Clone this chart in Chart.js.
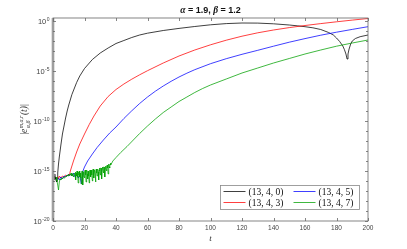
<!DOCTYPE html>
<html lang="en">
<head>
  <meta charset="UTF-8">
  <title>error plot</title>
  <script src="https://cdn.jsdelivr.net/npm/chart.js"></script>
  <style>
    html, body { margin: 0; padding: 0; background: #fff; }
    #wrap { width: 407px; height: 249px; }
  </style>
</head>
<body>
  <div id="wrap"><canvas id="myChart"></canvas></div>

  <script>
    // exponents (log10 of the error)
    const tBlack = [0.5, 0.75, 1, 1.25, 1.5, 1.75, 2, 2.25, 2.5, 2.75, 3, 3.5, 4, 5, 6, 7, 8, 9, 10, 12, 15, 17, 20, 25, 30, 35, 40, 45, 50, 55, 60, 70, 80, 90, 100, 110, 120, 130, 140, 150, 155, 160, 165, 170, 175, 178, 180, 182, 184, 185, 186, 186.7, 187.3, 188, 189, 190, 192, 195, 200];
    const vBlack = [-15.7, -15.5, -15.9, -15.3, -15.8, -15.6, -16.0, -15.9, -16.1, -15.7, -15.2, -14.3, -13.6, -12.4, -11.3, -10.5, -9.7, -9.0, -8.4, -7.35, -6.15, -5.5, -4.75, -3.85, -3.2, -2.7, -2.25, -1.95, -1.65, -1.4, -1.22, -0.95, -0.74, -0.55, -0.38, -0.26, -0.2, -0.21, -0.28, -0.4, -0.48, -0.57, -0.68, -0.85, -1.15, -1.4, -1.7, -2.05, -2.5, -2.85, -3.3, -3.8, -3.3, -2.8, -2.3, -2.0, -1.75, -1.57, -1.4];

    const tRed = [3, 3.5, 4, 5, 6, 7, 8, 9, 10, 10.5, 11, 12, 13, 15, 17, 20, 23, 26, 30, 35, 40, 45, 50, 55, 60, 70, 80, 90, 100, 110, 120, 130, 140, 150, 160, 170, 180, 190, 200];
    const vRed = [-15.6, -15.8, -15.5, -15.7, -15.5, -15.6, -15.4, -15.5, -15.3, -15.4, -15.0, -14.5, -14.0, -13.1, -12.3, -11.3, -10.35, -9.5, -8.5, -7.55, -6.85, -6.3, -5.82, -5.38, -4.97, -4.2, -3.5, -2.9, -2.38, -1.92, -1.52, -1.18, -0.9, -0.66, -0.45, -0.26, -0.08, 0.09, 0.25];

    const tBlue = [3, 4, 5, 6, 7, 8, 9, 10, 11, 12, 13, 14, 15, 16, 17, 18, 18.5, 19, 20, 22, 25, 28, 32, 36, 40, 45, 50, 55, 60, 65, 70, 75, 80, 85, 90, 100, 110, 120, 130, 140, 150, 160, 170, 180, 190, 200];
    const vBlue = [-15.7, -15.9, -15.6, -15.8, -15.5, -15.6, -15.4, -15.5, -15.3, -15.5, -15.2, -15.6, -15.3, -15.7, -15.4, -16.3, -15.6, -15.0, -14.6, -14.0, -13.3, -12.65, -11.9, -11.2, -10.6, -9.75, -8.98, -8.25, -7.6, -7.02, -6.5, -6.03, -5.6, -5.22, -4.87, -4.27, -3.77, -3.33, -2.93, -2.52, -2.12, -1.76, -1.42, -1.12, -0.84, -0.57];

    const tGreen = [2, 2.5, 3, 3.5, 4, 4.5, 5, 5.5, 6, 6.5, 7, 7.5, 8, 8.5, 9, 9.5, 10, 10.5, 11, 11.5, 12, 12.5, 13, 13.5,
      14, 14.25, 14.5, 14.75, 15, 15.25, 15.5, 15.75, 16, 16.25, 16.5, 16.75, 17, 17.25, 17.5, 17.75, 18, 18.25, 18.5, 18.75,
      19, 19.25, 19.5, 19.75, 20, 20.25, 20.5, 20.75, 21, 21.25, 21.5, 21.75, 22, 22.25, 22.5, 22.75, 23, 23.25, 23.5, 23.75,
      24, 24.25, 24.5, 24.75, 25, 25.25, 25.5, 25.75, 26, 26.25, 26.5, 26.75, 27, 27.25, 27.5, 27.75, 28, 28.25, 28.5, 28.75,
      29, 29.25, 29.5, 29.75, 30, 30.25, 30.5, 30.75, 31, 31.25, 31.5, 31.75, 32, 32.25, 32.5, 32.75, 33, 33.25, 33.5, 33.75,
      34, 34.25, 34.5, 34.75, 35, 35.25, 35.5, 35.75, 36, 36.25, 36.5, 36.75, 37,
      38, 40, 43, 47, 51, 55, 60, 65, 70, 75, 80, 85, 90, 95, 100, 110, 120, 130, 140, 150, 160, 170, 180, 190, 200];
    const vGreen = [-15.6, -16.0, -16.4, -16.9, -16.1, -15.8, -15.9, -15.7, -15.8, -15.6, -15.7, -15.6, -15.5, -15.6, -15.4, -15.5, -15.3, -15.5, -15.4, -15.2, -15.5, -15.3, -15.6, -15.2,
      -15.4, -15.1, -15.9, -15.2, -15.5, -15.0, -15.6, -15.2, -16.2, -15.1, -15.4, -15.0, -15.6, -15.2, -15.3, -15.7, -16.3, -15.1, -15.0, -15.6,
      -16.4, -15.3, -15.1, -15.5, -15.7, -15.0, -14.9, -15.4, -16.1, -15.2, -14.9, -15.3, -15.8, -15.0, -15.1, -15.5, -16.2, -15.1, -14.9, -15.3,
      -15.6, -14.9, -15.0, -15.4, -16.0, -15.0, -14.8, -15.2, -15.7, -14.9, -14.9, -15.3, -16.1, -15.0, -14.8, -15.2, -15.5, -14.8, -14.8, -15.1,
      -15.9, -14.9, -14.7, -15.0, -15.4, -14.7, -14.7, -15.1, -15.8, -14.8, -14.6, -14.9, -15.2, -14.6, -14.6, -14.9, -15.6, -14.7, -14.5, -14.8,
      -15.0, -14.5, -14.4, -14.7, -15.3, -14.5, -14.3, -14.6, -14.7, -14.3, -14.2, -14.4, -14.3,
      -14.0, -13.65, -13.15, -12.55, -11.9, -11.25, -10.5, -9.8, -9.15, -8.6, -8.05, -7.6, -7.15, -6.75, -6.4, -5.8, -5.2, -4.7, -4.2, -3.75, -3.3, -2.9, -2.52, -2.2, -1.9];

    const seriesNames = ['(13, 4, 0)', '(13, 4, 3)', '(13, 4, 5)', '(13, 4, 7)'];
    const seriesColors = ['#000000', '#ff0000', '#0000ff', '#00a000'];

    const xTicks = [0, 20, 40, 60, 80, 100, 120, 140, 160, 180, 200];
    const yMajor = [0, -5, -10, -15, -20];
    const yMinor = [-1, -2, -3, -4, -6, -7, -8, -9, -11, -12, -13, -14, -16, -17, -18, -19];

    const toPoints = (ts, vs) => ts.map((t, i) => ({ x: t, y: Math.pow(10, vs[i]) }));

    const allT = [tBlack, tRed, tBlue, tGreen];
    const allV = [vBlack, vRed, vBlue, vGreen];

    const axisColor = '#666';

    // frame, ticks, tick labels, title, labels and legend
    const decor = {
      id: 'decor',
      beforeDraw(chart) {
        const c = chart.ctx;
        c.save();
        c.fillStyle = '#fff';
        c.fillRect(0, 0, chart.width, chart.height);
        c.restore();
      },
      afterDraw(chart) {
        const c = chart.ctx;
        const a = chart.chartArea;
        const xs = chart.scales.x, ys = chart.scales.y;
        c.save();

        // left axis band
        c.fillStyle = '#c4c4c4';
        c.fillRect(a.left - 1.5, a.top, 3, a.bottom - a.top);

        c.strokeStyle = axisColor;
        c.lineWidth = 0.8;
        c.strokeRect(a.left, a.top, a.right - a.left, a.bottom - a.top);

        c.beginPath();
        xTicks.forEach(v => {
          const px = Math.round(xs.getPixelForValue(v)) + 0.5;
          c.moveTo(px, a.bottom); c.lineTo(px, a.bottom - 3);
          c.moveTo(px, a.top); c.lineTo(px, a.top + 3);
        });
        yMajor.forEach(e => {
          const py = Math.round(ys.getPixelForValue(Math.pow(10, e))) + 0.5;
          c.moveTo(a.left, py); c.lineTo(a.left + 3, py);
          c.moveTo(a.right, py); c.lineTo(a.right - 3, py);
        });
        yMinor.forEach(e => {
          const py = Math.round(ys.getPixelForValue(Math.pow(10, e))) + 0.5;
          c.moveTo(a.left, py); c.lineTo(a.left + 2, py);
          c.moveTo(a.right, py); c.lineTo(a.right - 2, py);
        });
        c.stroke();

        // y tick labels 10^e
        c.fillStyle = '#444';
        c.textBaseline = 'alphabetic';
        yMajor.forEach(e => {
          const py = ys.getPixelForValue(Math.pow(10, e));
          const exp = String(e);
          c.font = '5px "Liberation Sans"';
          const we = c.measureText(exp).width;
          c.textAlign = 'left';
          c.font = '7.5px "Liberation Sans"';
          const wb = c.measureText('10').width;
          const x0 = a.left - 4 - we - wb;
          c.fillText('10', x0, py + 2.8);
          c.font = '5px "Liberation Sans"';
          c.fillText(exp, x0 + wb + 0.5, py - 0.5);
        });

        // title
        const parts = [
          ['italic bold 9.5px "Liberation Serif"', 'α'],
          ['bold 9px "Liberation Sans"', ' = 1.9, '],
          ['italic bold 9.5px "Liberation Serif"', 'β'],
          ['bold 9px "Liberation Sans"', ' = 1.2']
        ];
        let tw = 0;
        parts.forEach(p => { c.font = p[0]; tw += c.measureText(p[1]).width; });
        let tx = (a.left + a.right) / 2 - tw / 2;
        c.fillStyle = '#111';
        c.textAlign = 'left';
        parts.forEach(p => { c.font = p[0]; c.fillText(p[1], tx, 13); tx += c.measureText(p[1]).width; });

        // x label
        c.font = 'italic 9px "Liberation Serif"';
        c.textAlign = 'center';
        c.fillStyle = '#333';
        c.fillText('t', (a.left + a.right) / 2, 241);

        // y label, rotated
        c.save();
        c.translate(24, (a.top + a.bottom) / 2);
        c.rotate(-Math.PI / 2);
        const big = '9.5px "Liberation Serif"';
        const bigI = 'italic 9.5px "Liberation Serif"';
        const small = 'italic 6px "Liberation Serif"';
        let w = 0;
        c.font = big; w += c.measureText('|').width;
        c.font = bigI; w += c.measureText('e').width;
        c.font = small;
        const wsup = c.measureText('m,a,r').width;
        const wsub = c.measureText('α,β').width;
        w += Math.max(wsup, wsub) + 1;
        c.font = bigI; w += c.measureText('(t)').width;
        c.font = big; w += c.measureText('|').width;
        let lx = -w / 2;
        c.fillStyle = '#333';
        c.textAlign = 'left';
        c.font = big; c.fillText('|', lx, 3); lx += c.measureText('|').width;
        c.font = bigI; c.fillText('e', lx, 3); lx += c.measureText('e').width;
        c.font = small;
        c.fillText('m,a,r', lx + 0.5, -1.5);
        c.fillText('α,β', lx + 0.5, 5.5);
        lx += Math.max(wsup, wsub) + 1;
        c.font = bigI; c.fillText('(t)', lx, 3); lx += c.measureText('(t)').width;
        c.font = big; c.fillText('|', lx, 3);
        c.restore();

        // legend
        const lb = { x: 220.5, y: 185.5, w: 139, h: 24 };
        c.fillStyle = '#fff';
        c.fillRect(lb.x, lb.y, lb.w, lb.h);
        c.strokeStyle = '#888';
        c.lineWidth = 0.8;
        c.strokeRect(lb.x, lb.y, lb.w, lb.h);
        const slots = [[0, 0], [0, 1], [1, 0], [1, 1]]; // [col,row] for black, red, blue, green
        c.font = '9.5px "Liberation Serif"';
        c.textAlign = 'left';
        c.textBaseline = 'middle';
        slots.forEach((s, i) => {
          const x0 = lb.x + 3 + s[0] * 70;
          const y0 = lb.y + 6 + s[1] * 11;
          c.strokeStyle = seriesColors[i];
          c.lineWidth = 0.75;
          c.beginPath();
          c.moveTo(x0, y0); c.lineTo(x0 + 22, y0);
          c.stroke();
          c.fillStyle = '#111';
          c.fillText(seriesNames[i], x0 + 25, y0 + 0.5);
        });

        c.restore();
      }
    };

    const ctx = document.getElementById('myChart').getContext('2d');
    new Chart(ctx, {
      type: 'line',
      data: {
        datasets: seriesNames.map((name, i) => ({
          label: name,
          data: toPoints(allT[i], allV[i]),
          borderColor: seriesColors[i],
          borderWidth: 0.75,
          pointRadius: 0,
          tension: 0,
          fill: false,
          order: 3 - i
        }))
      },
      options: {
        responsive: true,
        maintainAspectRatio: false,
        animation: false,
        parsing: false,
        layout: { padding: { left: 0, top: 18, right: 39, bottom: 0 } },
        plugins: { legend: { display: false }, tooltip: { enabled: false }, title: { display: false } },
        scales: {
          x: {
            type: 'linear',
            min: 0,
            max: 200,
            afterFit: s => { s.height = 28; },
            afterBuildTicks: s => { s.ticks = xTicks.map(v => ({ value: v })); },
            grid: { display: false, drawTicks: false },
            border: { display: false },
            ticks: {
              padding: 3,
              maxRotation: 0,
              color: '#444',
              font: { family: 'Liberation Sans', size: 6.5 }
            }
          },
          y: {
            type: 'logarithmic',
            min: 1e-20,
            max: Math.pow(10, 0.3),
            afterFit: s => { s.width = 53; },
            grid: { display: false, drawTicks: false },
            border: { display: false },
            ticks: { display: false }
          }
        }
      },
      plugins: [decor]
    });
  </script>
</body>
</html>
